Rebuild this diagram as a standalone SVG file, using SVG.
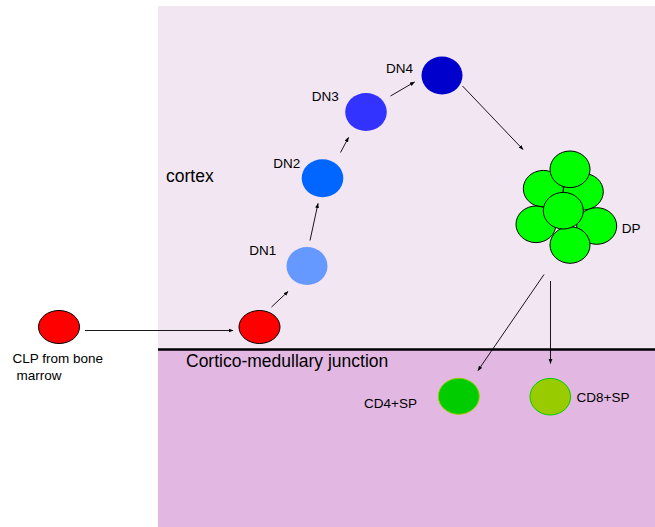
<svg xmlns="http://www.w3.org/2000/svg" width="655" height="527" viewBox="0 0 655 527">
  <style>
    .lbl { font-family: "Liberation Sans", Arial, sans-serif; font-size: 13.5px; fill: #000; }
    .zone { font-family: "Liberation Sans", Arial, sans-serif; font-size: 17.5px; fill: #000; }
    .conn { stroke: #000; stroke-width: 0.9; fill: none; marker-end: url(#tip); }
    .red { fill: #ff0000; stroke: #000; stroke-width: 1; }
    .dp { fill: #00ff00; stroke: #000; stroke-width: 1; }
  </style>
  <defs>
    <marker id="tip" markerUnits="userSpaceOnUse" markerWidth="5" markerHeight="5" refX="4.5" refY="2.5" orient="auto">
      <path d="M0,0.6 L5,2.5 L0,4.4 Z" fill="#000"/>
    </marker>
  </defs>

  <!-- tissue regions -->
  <rect id="cortex-zone" x="158" y="6" width="497" height="343.5" fill="#f2e6f2"/>
  <rect id="medulla-zone" x="158" y="349.5" width="497" height="177.5" fill="#e2b8e2"/>
  <line x1="158" y1="349.5" x2="655" y2="349.5" stroke="#000" stroke-width="2.6"/>
  <text class="zone" x="166" y="182">cortex</text>
  <text class="zone" x="186" y="366.5">Cortico-medullary junction</text>

  <!-- connectors -->
  <g id="connectors">
    <line class="conn" x1="85" y1="330.5" x2="233" y2="330.5"/>
    <line class="conn" x1="271.5" y1="307" x2="288" y2="291.5"/>
    <line class="conn" x1="310" y1="240.5" x2="318" y2="203.5"/>
    <line class="conn" x1="340.5" y1="152.5" x2="348.5" y2="137.5"/>
    <line class="conn" x1="390.5" y1="96" x2="414.5" y2="82"/>
    <line class="conn" x1="462.5" y1="86" x2="523" y2="149.5"/>
    <line class="conn" x1="544" y1="274.5" x2="478" y2="370.5"/>
    <line class="conn" x1="550.5" y1="281" x2="550.5" y2="363.5"/>
  </g>

  <!-- progenitor from bone marrow -->
  <g id="clp">
    <ellipse class="red" cx="59" cy="327" rx="20.5" ry="16.5"/>
    <text class="lbl" x="12.5" y="362.5">CLP from bone</text>
    <text class="lbl" x="16.5" y="379.5">marrow</text>
  </g>

  <g id="etp">
    <ellipse class="red" cx="259.5" cy="327" rx="20.5" ry="16.5"/>
  </g>

  <g id="dn1">
    <ellipse cx="307" cy="266" rx="20.5" ry="19" fill="#6699ff"/>
    <text class="lbl" x="249.3" y="255">DN1</text>
  </g>

  <g id="dn2">
    <ellipse cx="322.5" cy="178.3" rx="20.8" ry="19" fill="#0066ff"/>
    <text class="lbl" x="273.3" y="168">DN2</text>
  </g>

  <g id="dn3">
    <ellipse cx="366" cy="112" rx="20.8" ry="19" fill="#3333ff"/>
    <text class="lbl" x="311.7" y="101">DN3</text>
  </g>

  <g id="dn4">
    <ellipse cx="442" cy="75.5" rx="20.5" ry="19" fill="#0000cc"/>
    <text class="lbl" x="386" y="73.3">DN4</text>
  </g>

  <!-- double-positive cluster -->
  <g id="dp">
    <ellipse class="dp" cx="583.3" cy="191.7" rx="20" ry="18.3"/>
    <ellipse class="dp" cx="543.3" cy="188.7" rx="20" ry="18.3"/>
    <ellipse class="dp" cx="536" cy="224.3" rx="20" ry="18.3"/>
    <ellipse class="dp" cx="596.7" cy="226" rx="20" ry="18.3"/>
    <ellipse class="dp" cx="570" cy="245" rx="20" ry="18.3"/>
    <ellipse class="dp" cx="570" cy="169.3" rx="20" ry="18.3"/>
    <ellipse class="dp" cx="563.3" cy="210.7" rx="20" ry="18.3"/>
    <text class="lbl" x="621.7" y="232.7">DP</text>
  </g>

  <!-- single-positive cells -->
  <g id="cd4sp">
    <ellipse cx="458.8" cy="396.3" rx="20.5" ry="18" fill="#00cc00" stroke="#99cc00" stroke-width="1"/>
    <text class="lbl" x="364" y="407.7">CD4+SP</text>
  </g>

  <g id="cd8sp">
    <ellipse cx="550.3" cy="396.7" rx="20.3" ry="18.3" fill="#99cc00" stroke="#00cc00" stroke-width="1"/>
    <text class="lbl" x="576.5" y="402.3">CD8+SP</text>
  </g>
</svg>
